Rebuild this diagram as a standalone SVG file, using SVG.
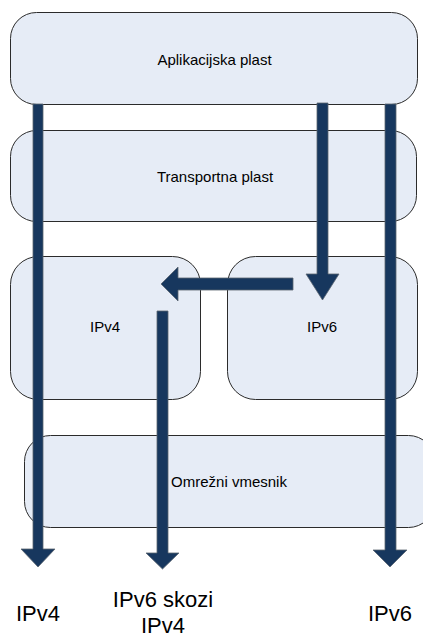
<svg xmlns="http://www.w3.org/2000/svg" width="423" height="637" viewBox="0 0 423 637">
  <style>
    .layer { fill: #e6ecf6; stroke: #2b2b2b; stroke-width: 1; }
    .lbl { font-family: "Liberation Sans", Arial, sans-serif; font-size: 15px; fill: #000; text-anchor: middle; }
    .big { font-family: "Liberation Sans", Arial, sans-serif; font-size: 22px; fill: #000; text-anchor: middle; }
    .flow { fill: #17375e; stroke: #5a6470; stroke-width: 0.8; }
  </style>
  <rect width="423" height="637" fill="#ffffff"/>

  <g id="aplikacijska-plast">
    <rect class="layer" x="10.5" y="12.5" width="407" height="92" rx="26" ry="26"/>
    <text class="lbl" x="214.5" y="65">Aplikacijska plast</text>
  </g>

  <g id="transportna-plast">
    <rect class="layer" x="10.5" y="130.5" width="406" height="91" rx="26" ry="26"/>
    <text class="lbl" x="215" y="182">Transportna plast</text>
  </g>

  <g id="ipv4">
    <rect class="layer" x="10.5" y="256.5" width="190" height="143" rx="28" ry="28"/>
    <text class="lbl" x="105" y="332">IPv4</text>
  </g>

  <g id="ipv6">
    <rect class="layer" x="227.5" y="256.5" width="190" height="143" rx="28" ry="28"/>
    <text class="lbl" x="322" y="332">IPv6</text>
  </g>

  <g id="omrezni-vmesnik">
    <rect class="layer" x="24.5" y="435.5" width="410" height="92" rx="26" ry="26"/>
    <text class="lbl" x="229" y="487">Omrežni vmesnik</text>
  </g>

  <g id="connectors">
    <!-- IPv4 path straight down -->
    <polygon class="flow" points="33,104 43,104 43,549 55,549 38,567 21,549 33,549"/>
    <!-- IPv6 path straight down -->
    <polygon class="flow" points="385,104 396,104 396,550 407,550 390,567 373,550 385,550"/>
    <!-- IPv6 entering the IPv6 layer -->
    <polygon class="flow" points="317,103 328,103 328,274 339,274 322.5,300 306,274 317,274"/>
    <!-- IPv6 handed over to IPv4 -->
    <polygon class="flow" points="293,278 293,290 178,290 178,301 161,284 178,267 178,278"/>
    <!-- IPv6 tunnelled through IPv4 -->
    <polygon class="flow" points="157,311 168,311 168,553 179,553 162.5,569 146,553 157,553"/>
  </g>

  <g id="izhodi">
    <text class="big" x="38" y="621">IPv4</text>
    <text class="big" x="163" y="607">IPv6 skozi</text>
    <text class="big" x="163" y="633">IPv4</text>
    <text class="big" x="390" y="621">IPv6</text>
  </g>
</svg>
